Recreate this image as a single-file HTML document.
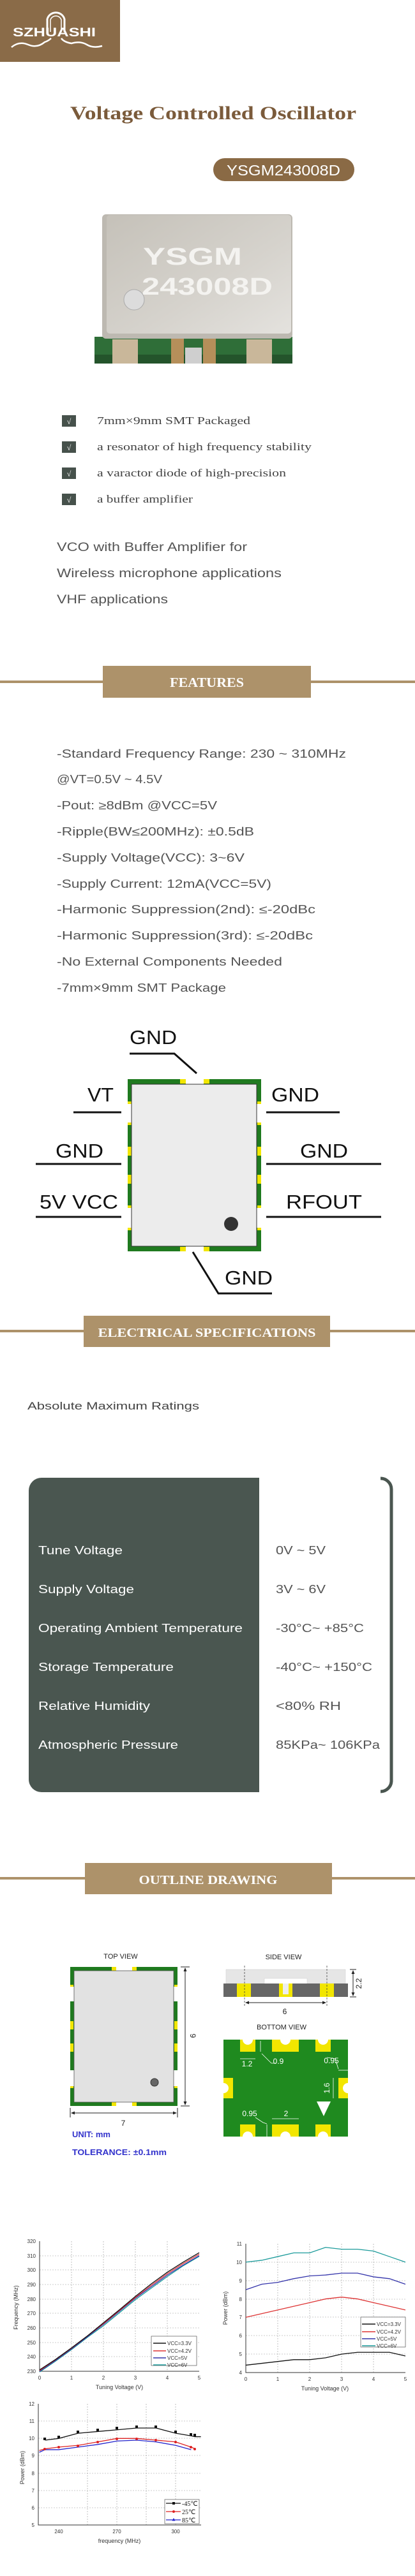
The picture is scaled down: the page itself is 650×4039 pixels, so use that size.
<!DOCTYPE html>
<html><head><meta charset="utf-8"><style>
html,body{margin:0;padding:0;background:#fff;}
svg{display:block;}
.sans{font-family:"Liberation Sans",sans-serif;}
.serif{font-family:"Liberation Serif",serif;}
</style></head><body>
<svg width="650" height="4039" viewBox="0 0 650 4039" xmlns="http://www.w3.org/2000/svg">
<rect width="650" height="4039" fill="#fff"/>
<!-- Logo -->
<rect x="0" y="0" width="188" height="97" fill="#8a6b48"/>
<path d="M74 50 V30 A14 14 0 0 1 101 30 V50" fill="none" stroke="#fff" stroke-width="3"/>
<path d="M79 50 V31 A9 9 0 0 1 96 31 V50" fill="none" stroke="#fff" stroke-width="1.5"/>
<text x="20" y="57" class="sans" font-size="19" font-weight="bold" fill="#fff" textLength="130" lengthAdjust="spacingAndGlyphs">SZHUASHI</text>
<path d="M18 74 Q30 64 44 70 T70 66 Q76 64 80 60" fill="none" stroke="#fff" stroke-width="2.5"/>
<path d="M96 60 Q100 66 112 68 Q126 64 136 70 T160 72" fill="none" stroke="#fff" stroke-width="2.5"/>

<!-- Title -->
<text x="334" y="187" text-anchor="middle" class="serif" font-size="30" font-weight="bold" fill="#7b5b3b" textLength="448" lengthAdjust="spacingAndGlyphs">Voltage Controlled Oscillator</text>
<rect x="334" y="248" width="221" height="36" rx="18" fill="#8a6a45"/>
<text x="444" y="275" text-anchor="middle" class="sans" font-size="23" fill="#fff" textLength="178" lengthAdjust="spacingAndGlyphs">YSGM243008D</text>

<!-- Chip photo -->
<defs>
<linearGradient id="gtop" x1="0" y1="0" x2="1" y2="1"><stop offset="0" stop-color="#c5c1b9"/><stop offset="0.6" stop-color="#d6d3cd"/><stop offset="1" stop-color="#e4e2de"/></linearGradient>
</defs>
<rect x="148" y="528" width="310" height="42" fill="#2f6e38"/>
<rect x="148" y="556" width="310" height="14" fill="#24542b"/>
<rect x="176" y="532" width="40" height="38" fill="#c9b79a"/>
<rect x="268" y="530" width="20" height="40" fill="#b58f5a"/>
<rect x="318" y="530" width="20" height="40" fill="#b58f5a"/>
<rect x="386" y="532" width="40" height="38" fill="#c9b79a"/>
<rect x="290" y="545" width="26" height="25" fill="#cfcfcf"/>
<rect x="160" y="336" width="298" height="195" rx="6" fill="#bdb9b1"/>
<rect x="167" y="337" width="289" height="186" rx="5" fill="url(#gtop)"/>
<text x="224" y="415" class="sans" font-size="38" font-weight="bold" fill="#f4f3f0" textLength="155" lengthAdjust="spacingAndGlyphs">YSGM</text>
<text x="222" y="462" class="sans" font-size="38" font-weight="bold" fill="#f4f3f0" textLength="205" lengthAdjust="spacingAndGlyphs">243008D</text>
<circle cx="210" cy="470" r="16" fill="#dcdcdc" stroke="#aaa" stroke-width="1"/>

<!-- Checklist -->
<g class="serif" font-size="17" fill="#444">
<rect x="97" y="651" width="22" height="18" fill="#46514b"/><text x="108" y="665" text-anchor="middle" fill="#fff" font-size="12">√</text>
<text x="152" y="665" textLength="240" lengthAdjust="spacingAndGlyphs">7mm×9mm SMT Packaged</text>
<rect x="97" y="692" width="22" height="18" fill="#46514b"/><text x="108" y="706" text-anchor="middle" fill="#fff" font-size="12">√</text>
<text x="152" y="706" textLength="336" lengthAdjust="spacingAndGlyphs">a resonator of high frequency stability</text>
<rect x="97" y="733" width="22" height="18" fill="#46514b"/><text x="108" y="747" text-anchor="middle" fill="#fff" font-size="12">√</text>
<text x="152" y="747" textLength="296" lengthAdjust="spacingAndGlyphs">a varactor diode of high-precision</text>
<rect x="97" y="774" width="22" height="18" fill="#46514b"/><text x="108" y="788" text-anchor="middle" fill="#fff" font-size="12">√</text>
<text x="152" y="788" textLength="150" lengthAdjust="spacingAndGlyphs">a buffer amplifier</text>
</g>
<g class="sans" font-size="19" fill="#555">
<text x="89" y="864" textLength="298" lengthAdjust="spacingAndGlyphs">VCO with Buffer Amplifier for</text>
<text x="89" y="905" textLength="352" lengthAdjust="spacingAndGlyphs">Wireless microphone applications</text>
<text x="89" y="946" textLength="174" lengthAdjust="spacingAndGlyphs">VHF applications</text>
</g>

<!-- FEATURES banner -->
<rect x="0" y="1067" width="650" height="4" fill="#ad926a"/>
<rect x="161" y="1044" width="326" height="50" fill="#ad926a"/>
<text x="324" y="1077" text-anchor="middle" class="serif" font-size="21" font-weight="bold" fill="#fff" textLength="116" lengthAdjust="spacingAndGlyphs">FEATURES</text>

<g class="sans" font-size="18" fill="#555">
<text x="89" y="1188" textLength="453" lengthAdjust="spacingAndGlyphs">-Standard Frequency Range:  230 ~ 310MHz</text>
<text x="89" y="1228" textLength="165" lengthAdjust="spacingAndGlyphs">@VT=0.5V ~ 4.5V</text>
<text x="89" y="1269" textLength="251" lengthAdjust="spacingAndGlyphs">-Pout:  ≥8dBm @VCC=5V</text>
<text x="89" y="1310" textLength="309" lengthAdjust="spacingAndGlyphs">-Ripple(BW≤200MHz):  ±0.5dB</text>
<text x="89" y="1351" textLength="294" lengthAdjust="spacingAndGlyphs">-Supply Voltage(VCC):  3~6V</text>
<text x="89" y="1392" textLength="336" lengthAdjust="spacingAndGlyphs">-Supply Current:  12mA(VCC=5V)</text>
<text x="89" y="1432" textLength="405" lengthAdjust="spacingAndGlyphs">-Harmonic Suppression(2nd):  ≤-20dBc</text>
<text x="89" y="1473" textLength="401" lengthAdjust="spacingAndGlyphs">-Harmonic Suppression(3rd):  ≤-20dBc</text>
<text x="89" y="1514" textLength="353" lengthAdjust="spacingAndGlyphs">-No External Components Needed</text>
<text x="89" y="1555" textLength="265" lengthAdjust="spacingAndGlyphs">-7mm×9mm SMT Package</text>
</g>

<!-- Pin diagram -->
<rect x="200" y="1692" width="209" height="270" fill="#1f7a1f"/>
<rect x="200" y="1731" width="7" height="29" fill="#fff"/>
<rect x="200" y="1894" width="7" height="31" fill="#fff"/>
<rect x="402" y="1731" width="7" height="29" fill="#fff"/>
<rect x="402" y="1894" width="7" height="31" fill="#fff"/>
<g fill="#f2e600">
<rect x="200" y="1727" width="6" height="4"/><rect x="200" y="1760" width="6" height="4"/>
<rect x="200" y="1798" width="6" height="14"/><rect x="200" y="1842" width="6" height="14"/>
<rect x="200" y="1890" width="6" height="4"/><rect x="200" y="1925" width="6" height="4"/>
<rect x="403" y="1727" width="6" height="4"/><rect x="403" y="1760" width="6" height="4"/>
<rect x="403" y="1798" width="6" height="14"/><rect x="403" y="1842" width="6" height="14"/>
<rect x="403" y="1890" width="6" height="4"/><rect x="403" y="1925" width="6" height="4"/>
<rect x="282" y="1692" width="9" height="7"/><rect x="319" y="1692" width="9" height="7"/>
<rect x="282" y="1955" width="9" height="7"/><rect x="319" y="1955" width="9" height="7"/>
</g>
<rect x="291" y="1692" width="28" height="8" fill="#fff"/>
<rect x="291" y="1954" width="28" height="8" fill="#fff"/>
<rect x="206" y="1700" width="196" height="254" fill="#ececec" stroke="#333" stroke-width="1"/>
<circle cx="362" cy="1919" r="11" fill="#333"/>
<g stroke="#111" stroke-width="3" fill="none">
<polyline points="203,1652 273,1652 308,1683"/>
<line x1="115" y1="1744" x2="190" y2="1744"/>
<line x1="417" y1="1744" x2="532" y2="1744"/>
<line x1="56" y1="1825" x2="190" y2="1825"/>
<line x1="417" y1="1825" x2="597" y2="1825"/>
<line x1="56" y1="1908" x2="190" y2="1908"/>
<line x1="417" y1="1908" x2="597" y2="1908"/>
<polyline points="302,1963 342,2028 426,2028"/>
</g>
<g class="sans" font-size="31" fill="#111">
<text x="203" y="1637" textLength="74" lengthAdjust="spacingAndGlyphs">GND</text>
<text x="137" y="1727" textLength="41" lengthAdjust="spacingAndGlyphs">VT</text>
<text x="425" y="1727" textLength="75" lengthAdjust="spacingAndGlyphs">GND</text>
<text x="87" y="1815" textLength="75" lengthAdjust="spacingAndGlyphs">GND</text>
<text x="470" y="1815" textLength="75" lengthAdjust="spacingAndGlyphs">GND</text>
<text x="62" y="1895" textLength="123" lengthAdjust="spacingAndGlyphs">5V VCC</text>
<text x="448" y="1895" textLength="119" lengthAdjust="spacingAndGlyphs">RFOUT</text>
<text x="352" y="2014" textLength="75" lengthAdjust="spacingAndGlyphs">GND</text>
</g>

<!-- ELECTRICAL SPECIFICATIONS -->
<rect x="0" y="2085" width="650" height="4" fill="#ad926a"/>
<rect x="131" y="2063" width="386" height="49" fill="#ad926a"/>
<text x="324" y="2096" text-anchor="middle" class="serif" font-size="20" font-weight="bold" fill="#fff" textLength="341" lengthAdjust="spacingAndGlyphs">ELECTRICAL SPECIFICATIONS</text>
<text x="43" y="2210" class="sans" font-size="17" fill="#444" textLength="269" lengthAdjust="spacingAndGlyphs">Absolute Maximum Ratings</text>

<path d="M65 2317 H406 V2810 H65 A20 20 0 0 1 45 2790 V2337 A20 20 0 0 1 65 2317 Z" fill="#4a5650"/>
<path d="M596 2318 A17 17 0 0 1 613 2335 V2792 A17 17 0 0 1 596 2809" fill="none" stroke="#4a5650" stroke-width="5"/>
<g class="sans" font-size="18" fill="#fff">
<text x="60" y="2437" textLength="132" lengthAdjust="spacingAndGlyphs">Tune Voltage</text>
<text x="60" y="2498" textLength="150" lengthAdjust="spacingAndGlyphs">Supply Voltage</text>
<text x="60" y="2559" textLength="320" lengthAdjust="spacingAndGlyphs">Operating Ambient Temperature</text>
<text x="60" y="2620" textLength="212" lengthAdjust="spacingAndGlyphs">Storage Temperature</text>
<text x="60" y="2681" textLength="175" lengthAdjust="spacingAndGlyphs">Relative Humidity</text>
<text x="60" y="2742" textLength="219" lengthAdjust="spacingAndGlyphs">Atmospheric Pressure</text>
</g>
<g class="sans" font-size="18" fill="#555">
<text x="432" y="2437" textLength="78" lengthAdjust="spacingAndGlyphs">0V ~ 5V</text>
<text x="432" y="2498" textLength="78" lengthAdjust="spacingAndGlyphs">3V ~ 6V</text>
<text x="432" y="2559" textLength="138" lengthAdjust="spacingAndGlyphs">-30°C~ +85°C</text>
<text x="432" y="2620" textLength="151" lengthAdjust="spacingAndGlyphs">-40°C~ +150°C</text>
<text x="432" y="2681" textLength="102" lengthAdjust="spacingAndGlyphs">&lt;80% RH</text>
<text x="432" y="2742" textLength="163" lengthAdjust="spacingAndGlyphs">85KPa~ 106KPa</text>
</g>

<!-- OUTLINE DRAWING -->
<rect x="0" y="2943" width="650" height="4" fill="#ad926a"/>
<rect x="133" y="2921" width="387" height="49" fill="#ad926a"/>
<text x="326" y="2954" text-anchor="middle" class="serif" font-size="20" font-weight="bold" fill="#fff" textLength="217" lengthAdjust="spacingAndGlyphs">OUTLINE DRAWING</text>

<!-- top view -->
<text x="189" y="3071" text-anchor="middle" class="sans" font-size="11" fill="#222">TOP VIEW</text>
<rect x="110" y="3084" width="168" height="218" fill="#1f7a1f"/>
<rect x="110" y="3115" width="6" height="23" fill="#fff"/><rect x="110" y="3246" width="6" height="25" fill="#fff"/>
<rect x="272" y="3115" width="6" height="23" fill="#fff"/><rect x="272" y="3246" width="6" height="25" fill="#fff"/>
<g fill="#f2e600">
<rect x="175" y="3084" width="7" height="6"/><rect x="207" y="3084" width="7" height="6"/>
<rect x="175" y="3296" width="7" height="6"/><rect x="207" y="3296" width="7" height="6"/>
<rect x="110" y="3112" width="5" height="3"/><rect x="110" y="3169" width="5" height="13"/><rect x="110" y="3204" width="5" height="13"/><rect x="110" y="3271" width="5" height="3"/>
<rect x="273" y="3112" width="5" height="3"/><rect x="273" y="3169" width="5" height="13"/><rect x="273" y="3204" width="5" height="13"/><rect x="273" y="3271" width="5" height="3"/>
</g>
<rect x="182" y="3084" width="25" height="6" fill="#fff"/><rect x="182" y="3296" width="25" height="6" fill="#fff"/>
<rect x="116" y="3090" width="156" height="206" fill="#e2e2e2" stroke="#555" stroke-width="0.8"/>
<circle cx="242" cy="3265" r="6" fill="#666" stroke="#333"/>
<g stroke="#222" stroke-width="1" fill="none">
<line x1="283" y1="3084" x2="297" y2="3084"/><line x1="283" y1="3302" x2="297" y2="3302"/>
<line x1="290" y1="3086" x2="290" y2="3300"/>
<line x1="110" y1="3305" x2="110" y2="3320"/><line x1="278" y1="3305" x2="278" y2="3320"/>
<line x1="112" y1="3313" x2="276" y2="3313"/>
</g>
<g fill="#222">
<path d="M290 3085 l-2.5 6 h5z"/><path d="M290 3301 l-2.5 -6 h5z"/>
<path d="M111 3313 l6 -2.5 v5z"/><path d="M277 3313 l-6 -2.5 v5z"/>
</g>
<text x="298" y="3192" class="sans" font-size="12" fill="#222" transform="rotate(90 298 3192)" text-anchor="middle">9</text>
<text x="193" y="3333" class="sans" font-size="12" fill="#222" text-anchor="middle">7</text>
<text x="113" y="3351" class="sans" font-size="13" font-weight="bold" fill="#3333cc">UNIT: mm</text>
<text x="113" y="3379" class="sans" font-size="13" font-weight="bold" fill="#3333cc" textLength="148" lengthAdjust="spacingAndGlyphs">TOLERANCE: ±0.1mm</text>

<!-- side view -->
<text x="444" y="3072" text-anchor="middle" class="sans" font-size="11" fill="#222">SIDE VIEW</text>
<path d="M354 3088 H541 V3110 H481 V3102 H414 V3110 H354 Z" fill="#e6e6e6" stroke="#ccc" stroke-width="0.5"/>
<rect x="350" y="3110" width="195" height="21" fill="#666"/>
<rect x="371" y="3110" width="22" height="21" fill="#f2e600"/>
<rect x="501" y="3110" width="22" height="21" fill="#f2e600"/>
<path d="M437 3110 H458 V3131 H437 Z" fill="#f2e600"/>
<rect x="443" y="3110" width="9" height="17" fill="#eee"/>
<g stroke="#444" stroke-width="0.8" stroke-dasharray="3,2"><line x1="383" y1="3082" x2="383" y2="3146"/><line x1="512" y1="3082" x2="512" y2="3146"/></g>
<g stroke="#222" stroke-width="1"><line x1="385" y1="3140" x2="510" y2="3140"/><line x1="548" y1="3088" x2="558" y2="3088"/><line x1="548" y1="3131" x2="558" y2="3131"/><line x1="553" y1="3090" x2="553" y2="3129"/></g>
<g fill="#222"><path d="M384 3140 l6 -2.5 v5z"/><path d="M511 3140 l-6 -2.5 v5z"/><path d="M553 3089 l-2.5 6 h5z"/><path d="M553 3130 l-2.5 -6 h5z"/></g>
<text x="446" y="3158" text-anchor="middle" class="sans" font-size="12" fill="#222">6</text>
<text x="566" y="3110" text-anchor="middle" class="sans" font-size="12" fill="#222" transform="rotate(-90 566 3110)">2.2</text>

<!-- bottom view -->
<text x="441" y="3182" text-anchor="middle" class="sans" font-size="11" fill="#222">BOTTOM VIEW</text>
<rect x="350" y="3198" width="195" height="152" fill="#1f8a1f"/>
<g fill="#f2e600">
<rect x="376" y="3198" width="24" height="19"/><rect x="426" y="3198" width="42" height="19"/><rect x="494" y="3198" width="24" height="19"/>
<rect x="376" y="3331" width="24" height="19"/><rect x="426" y="3331" width="42" height="19"/><rect x="494" y="3331" width="24" height="19"/>
<rect x="350" y="3258" width="15" height="32"/><rect x="530" y="3258" width="15" height="32"/>
</g>
<g fill="#fff">
<circle cx="388" cy="3198" r="8"/><circle cx="447" cy="3198" r="8"/><circle cx="506" cy="3198" r="8"/>
<circle cx="388" cy="3350" r="8"/><circle cx="447" cy="3350" r="8"/><circle cx="506" cy="3350" r="8"/>
<circle cx="350" cy="3274" r="8"/><circle cx="545" cy="3274" r="8"/>
<path d="M496 3295 H518 L507 3318 Z"/>
</g>
<rect x="340" y="3190" width="10" height="170" fill="#fff"/><rect x="545" y="3190" width="10" height="170" fill="#fff"/>
<g stroke="#fff" stroke-width="0.8" fill="none">
<line x1="376" y1="3228" x2="400" y2="3228"/><line x1="408" y1="3200" x2="408" y2="3217"/>
<polyline points="410,3220 425,3235 432,3235"/>
<line x1="530" y1="3246" x2="545" y2="3246"/><polyline points="512,3226 525,3228 530,3244"/>
<line x1="522" y1="3258" x2="522" y2="3290"/>
<line x1="426" y1="3322" x2="468" y2="3322"/><line x1="418" y1="3331" x2="418" y2="3350"/>
<polyline points="400,3320 412,3328 418,3330"/>
</g>
<g class="sans" font-size="12" fill="#fff">
<text x="387" y="3240" text-anchor="middle">1.2</text>
<text x="436" y="3236" text-anchor="middle">0.9</text>
<text x="519" y="3235" text-anchor="middle">0.95</text>
<text x="516" y="3274" text-anchor="middle" transform="rotate(-90 516 3274)">1.6</text>
<text x="391" y="3318" text-anchor="middle">0.95</text>
<text x="448" y="3318" text-anchor="middle">2</text>
</g>

<!-- Chart 1 -->
<g stroke="#999" stroke-width="0.6" stroke-dasharray="2,2">
<line x1="112" y1="3514" x2="112" y2="3718"/><line x1="162" y1="3514" x2="162" y2="3718"/><line x1="212" y1="3514" x2="212" y2="3718"/><line x1="262" y1="3514" x2="262" y2="3718"/>
<line x1="62" y1="3537" x2="312" y2="3537"/><line x1="62" y1="3559" x2="312" y2="3559"/><line x1="62" y1="3582" x2="312" y2="3582"/><line x1="62" y1="3605" x2="312" y2="3605"/><line x1="62" y1="3627" x2="312" y2="3627"/><line x1="62" y1="3650" x2="312" y2="3650"/><line x1="62" y1="3673" x2="312" y2="3673"/><line x1="62" y1="3695" x2="312" y2="3695"/>
</g>
<polyline points="62,3514 62,3718 312,3718" fill="none" stroke="#333" stroke-width="1"/>
<g transform="translate(62,3718) scale(50,-2.267)" fill="none" stroke-width="1.3">
<polyline vector-effect="non-scaling-stroke" stroke="#1a9a9a" points="0,-0.5 0.5,7 1,15 1.5,23.5 2,31.5 2.5,40.5 3,49.5 3.5,57.5 4,65.5 4.5,73 5,79.5"/>
<polyline vector-effect="non-scaling-stroke" stroke="#3333aa" points="0,0 0.5,7.5 1,15.5 1.5,24 2,32.5 2.5,41.5 3,50.5 3.5,58.5 4,66.5 4.5,73.5 5,80"/>
<polyline vector-effect="non-scaling-stroke" stroke="#dd3333" points="0,0.5 0.5,8 1,16 1.5,24.5 2,33 2.5,42 3,51 3.5,59.5 4,67.5 4.5,74.5 5,81"/>
<polyline vector-effect="non-scaling-stroke" stroke="#111" points="0,1 0.5,8.2 1,16.2 1.5,24.5 2,33.5 2.5,42.5 3,51.8 3.5,60.5 4,68.5 4.5,75.5 5,82"/>
</g>
<g class="sans" font-size="8" fill="#333" text-anchor="end">
<text x="56" y="3517">320</text><text x="56" y="3540">310</text><text x="56" y="3562">300</text><text x="56" y="3585">290</text><text x="56" y="3608">280</text><text x="56" y="3630">270</text><text x="56" y="3653">260</text><text x="56" y="3676">250</text><text x="56" y="3698">240</text><text x="56" y="3721">230</text>
</g>
<g class="sans" font-size="8" fill="#333" text-anchor="middle">
<text x="62" y="3731">0</text><text x="112" y="3731">1</text><text x="162" y="3731">2</text><text x="212" y="3731">3</text><text x="262" y="3731">4</text><text x="312" y="3731">5</text>
<text x="187" y="3746" font-size="9">Tuning Voltage (V)</text>
<text x="28" y="3618" font-size="9" transform="rotate(-90 28 3618)">Frequency (MHz)</text>
</g>
<rect x="237" y="3663" width="71" height="46" fill="#fff" stroke="#555" stroke-width="0.7"/>
<g stroke-width="1.5"><line x1="240" y1="3674" x2="260" y2="3674" stroke="#111"/><line x1="240" y1="3686" x2="260" y2="3686" stroke="#dd3333"/><line x1="240" y1="3697" x2="260" y2="3697" stroke="#3333aa"/><line x1="240" y1="3708" x2="260" y2="3708" stroke="#1a9a9a"/></g>
<g class="sans" font-size="8" fill="#333"><text x="262" y="3677">VCC=3.3V</text><text x="262" y="3689">VCC=4.2V</text><text x="262" y="3700">VCC=5V</text><text x="262" y="3711">VCC=6V</text></g>

<!-- Chart 2 -->
<g stroke="#999" stroke-width="0.6" stroke-dasharray="2,2">
<line x1="435" y1="3518" x2="435" y2="3720"/><line x1="485" y1="3518" x2="485" y2="3720"/><line x1="535" y1="3518" x2="535" y2="3720"/><line x1="585" y1="3518" x2="585" y2="3720"/>
<line x1="385" y1="3547" x2="635" y2="3547"/><line x1="385" y1="3576" x2="635" y2="3576"/><line x1="385" y1="3605" x2="635" y2="3605"/><line x1="385" y1="3633" x2="635" y2="3633"/><line x1="385" y1="3662" x2="635" y2="3662"/><line x1="385" y1="3691" x2="635" y2="3691"/>
</g>
<polyline points="385,3518 385,3720 635,3720" fill="none" stroke="#333" stroke-width="1"/>
<g transform="translate(385,3720) scale(50,-28.86)" fill="none" stroke-width="1.3">
<polyline vector-effect="non-scaling-stroke" stroke="#1a9a9a" points="0,6 0.5,6.1 1,6.3 1.5,6.5 2,6.5 2.5,6.8 3,6.7 3.5,6.7 4,6.6 4.5,6.3 5,6"/>
<polyline vector-effect="non-scaling-stroke" stroke="#3333aa" points="0,4.5 0.5,4.8 1,4.9 1.5,5.1 2,5.25 2.5,5.3 3,5.4 3.5,5.4 4,5.2 4.5,5.1 5,4.8"/>
<polyline vector-effect="non-scaling-stroke" stroke="#dd3333" points="0,3 0.5,3.2 1,3.4 1.5,3.6 2,3.8 2.5,4 3,4.1 3.5,4 4,3.8 4.5,3.6 5,3.4"/>
<polyline vector-effect="non-scaling-stroke" stroke="#111" points="0,0.4 0.5,0.5 1,0.6 1.5,0.7 2,0.7 2.5,0.8 3,1 3.5,1.1 4,1.1 4.5,1.1 5,0.9"/>
</g>
<g class="sans" font-size="8" fill="#333" text-anchor="end">
<text x="379" y="3521">11</text><text x="379" y="3550">10</text><text x="379" y="3579">9</text><text x="379" y="3608">8</text><text x="379" y="3636">7</text><text x="379" y="3665">6</text><text x="379" y="3694">5</text><text x="379" y="3723">4</text>
</g>
<g class="sans" font-size="8" fill="#333" text-anchor="middle">
<text x="385" y="3733">0</text><text x="435" y="3733">1</text><text x="485" y="3733">2</text><text x="535" y="3733">3</text><text x="585" y="3733">4</text><text x="635" y="3733">5</text>
<text x="509" y="3748" font-size="9">Tuning Voltage (V)</text>
<text x="356" y="3619" font-size="9" transform="rotate(-90 356 3619)">Power (dBm)</text>
</g>
<rect x="565" y="3633" width="70" height="47" fill="#fff" stroke="#555" stroke-width="0.7"/>
<g stroke-width="1.5"><line x1="567" y1="3644" x2="588" y2="3644" stroke="#111"/><line x1="567" y1="3656" x2="588" y2="3656" stroke="#dd3333"/><line x1="567" y1="3667" x2="588" y2="3667" stroke="#3333aa"/><line x1="567" y1="3678" x2="588" y2="3678" stroke="#1a9a9a"/></g>
<g class="sans" font-size="8" fill="#333"><text x="590" y="3647">VCC=3.3V</text><text x="590" y="3659">VCC=4.2V</text><text x="590" y="3670">VCC=5V</text><text x="590" y="3681">VCC=6V</text></g>

<!-- Chart 3 -->
<g stroke="#999" stroke-width="0.6" stroke-dasharray="2,2">
<line x1="137" y1="3769" x2="137" y2="3959"/><line x1="183" y1="3769" x2="183" y2="3959"/><line x1="229" y1="3769" x2="229" y2="3959"/><line x1="275" y1="3769" x2="275" y2="3959"/>
<line x1="60" y1="3796" x2="315" y2="3796"/><line x1="60" y1="3823" x2="315" y2="3823"/><line x1="60" y1="3850" x2="315" y2="3850"/><line x1="60" y1="3878" x2="315" y2="3878"/><line x1="60" y1="3905" x2="315" y2="3905"/><line x1="60" y1="3932" x2="315" y2="3932"/>
</g>
<polyline points="60,3769 60,3959 315,3959" fill="none" stroke="#333" stroke-width="1"/>
<g transform="translate(92,3959) scale(3.05,-27.14)" fill="none" stroke-width="1.3">
<polyline vector-effect="non-scaling-stroke" stroke="#111" points="-7,4.9 0,5 10,5.3 20,5.4 30,5.5 40,5.6 50,5.6 60,5.3 68,5.15 70,5.1 73,5.1"/>
<polyline vector-effect="non-scaling-stroke" stroke="#dd2222" points="-10,4.3 -7,4.4 0,4.5 10,4.6 20,4.8 30,5 40,5 50,4.9 60,4.8 68,4.5 70,4.4"/>
<polyline vector-effect="non-scaling-stroke" stroke="#2222cc" points="-10,4.2 -7,4.35 0,4.35 10,4.5 20,4.65 30,4.85 40,4.9 50,4.8 60,4.6 68,4.35"/>
</g>
<g fill="#111">
<rect x="68" y="3822" width="4" height="4"/><rect x="90" y="3819" width="4" height="4"/><rect x="120" y="3811" width="4" height="4"/><rect x="151" y="3808" width="4" height="4"/><rect x="181" y="3805" width="4" height="4"/><rect x="212" y="3803" width="4" height="4"/><rect x="242" y="3803" width="4" height="4"/><rect x="273" y="3811" width="4" height="4"/><rect x="297" y="3815" width="4" height="4"/><rect x="303" y="3816" width="4" height="4"/>
</g>
<g fill="#dd2222">
<circle cx="70" cy="3840" r="2"/><circle cx="92" cy="3837" r="2"/><circle cx="122" cy="3835" r="2"/><circle cx="153" cy="3829" r="2"/><circle cx="183" cy="3824" r="2"/><circle cx="214" cy="3824" r="2"/><circle cx="244" cy="3826" r="2"/><circle cx="275" cy="3829" r="2"/><circle cx="299" cy="3837" r="2"/><circle cx="305" cy="3840" r="2"/>
</g>
<g class="sans" font-size="8" fill="#333" text-anchor="end">
<text x="54" y="3772">12</text><text x="54" y="3799">11</text><text x="54" y="3826">10</text><text x="54" y="3853">9</text><text x="54" y="3881">8</text><text x="54" y="3908">7</text><text x="54" y="3935">6</text><text x="54" y="3962">5</text>
</g>
<g class="sans" font-size="8" fill="#333" text-anchor="middle">
<text x="92" y="3972">240</text><text x="183" y="3972">270</text><text x="275" y="3972">300</text>
<text x="187" y="3987" font-size="9">frequency (MHz)</text>
<text x="38" y="3869" font-size="9" transform="rotate(-90 38 3869)">Power (dBm)</text>
</g>
<rect x="258" y="3919" width="54" height="38" fill="#fff" stroke="#555" stroke-width="0.7"/>
<g stroke-width="1.3"><line x1="260" y1="3925" x2="283" y2="3925" stroke="#111"/><line x1="260" y1="3938" x2="283" y2="3938" stroke="#dd2222"/><line x1="260" y1="3951" x2="283" y2="3951" stroke="#2222cc"/></g>
<rect x="270" y="3923" width="4" height="4" fill="#111"/><circle cx="272" cy="3938" r="2" fill="#dd2222"/><path d="M272 3948 l2.5 4.5 h-5z" fill="#2222cc"/>
<g class="serif" font-size="10" fill="#111"><text x="285" y="3929">-45℃</text><text x="285" y="3942">25℃</text><text x="285" y="3955">85℃</text></g>
</svg>
</body></html>
